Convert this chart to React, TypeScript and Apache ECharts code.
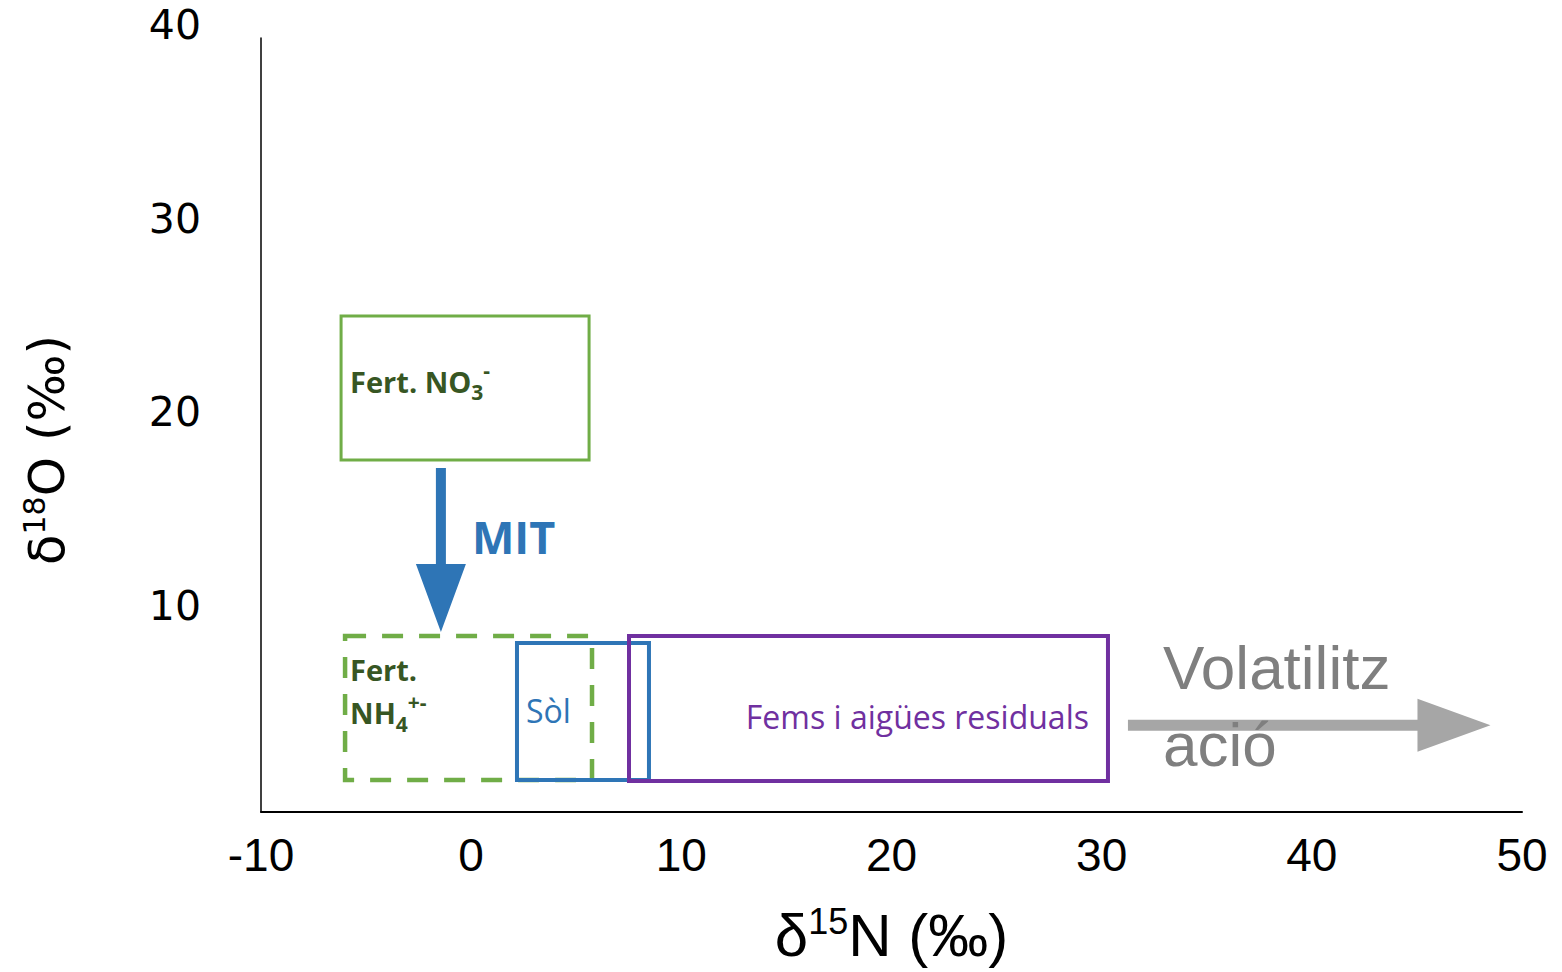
import { useEffect, useRef } from "react";
import * as echarts from "echarts";

// ---------- data ----------
const xTicks = [-10, 0, 10, 20, 30, 40, 50];
const yTicks = [0, 10, 20, 30, 40];
const yTickLabels = ["", "10", "20", "30", "40"];

const boxLabels = [
  "Fert. NO{sub|3}{sup|-}",
  "Fert.\nNH{sub|4}{sup|+-}",
  "Sòl",
  "Fems i aigües residuals",
];
const boxXMin = [-6.19, -6.0, 2.18, 7.51];
const boxXMax = [5.61, 5.75, 8.46, 30.3];
const boxYMin = [18.19, 1.65, 1.65, 1.6];
const boxYMax = [25.63, 9.1, 8.73, 9.1];

const arrowLabels = ["MIT", "Volatilitz\nació"];
const arrowXFrom = [-1.44, 31.25];
const arrowYFrom = [17.78, 4.48];
const arrowXTo = [-1.44, 48.5];
const arrowYTo = [9.3, 4.48];

// ---------- styles ----------
const SANS = "'Open Sans', sans-serif";
const subSup = (size: number) => ({
  sub: { fontSize: size, fontWeight: "bold", fontFamily: SANS, fill: "#375623", lineHeight: 4, verticalAlign: "bottom" },
  sup: { fontSize: size, fontWeight: "bold", fontFamily: SANS, fill: "#375623", lineHeight: 22, verticalAlign: "top" },
});

const boxStyles: any[] = [
  { stroke: "#70AD47", lineWidth: 3, dash: null, fill: "#375623", weight: "bold", size: 29, lh: 43, anchor: "left", dx: 9, dy: -7, rich: subSup(21) },
  { stroke: "#70AD47", lineWidth: 4.5, dash: [21, 16], fill: "#375623", weight: "bold", size: 29, lh: 43, anchor: "leftTop", dx: 5, dy: 12.5, rich: subSup(21) },
  { stroke: "#2E75B6", lineWidth: 4, dash: null, fill: "#2E75B6", weight: "normal", size: 32, lh: 40, anchor: "left", dx: 9, dy: -1, rich: {} },
  { stroke: "#7030A0", lineWidth: 4, dash: null, fill: "#7030A0", weight: "normal", size: 32, lh: 40, anchor: "right", dx: -19, dy: 8, rich: {} },
];

const arrowStyles: any[] = [
  { color: "#2E75B6", shaftHalf: 5, headHalf: 25, headLen: 68, text: "#2E75B6", font: SANS, size: 45, weight: "bold", lh: 50, tx: 31, ty: 0, tyMid: true, textTyOffset: -14 },
  { color: "#A6A6A6", shaftHalf: 5.5, headHalf: 26.5, headLen: 73, text: "#7F7F7F", font: "'Liberation Sans', Arial, sans-serif", size: 62, weight: "normal", lh: 77, tx: 35, ty: -19, tyMid: false, textTyOffset: 0 },
];

export default function App() {
  const ref = useRef<HTMLDivElement>(null);

  useEffect(() => {
    if (!ref.current) return;
    const chart = echarts.init(ref.current, null, { renderer: "svg" });

    const boxData = boxLabels.map((_, i) => [boxXMin[i], boxYMin[i], boxXMax[i], boxYMax[i]]);
    const arrowData = arrowLabels.map((_, i) => [arrowXFrom[i], arrowYFrom[i], arrowXTo[i], arrowYTo[i]]);

    const option: any = {
      animation: false,
      backgroundColor: "#ffffff",
      grid: { left: 261, right: 40, top: 38, bottom: 160, containLabel: false, outerBoundsMode: "none" },
      xAxis: {
        type: "value",
        min: xTicks[0],
        max: xTicks[xTicks.length - 1],
        interval: xTicks[1] - xTicks[0],
        axisLine: { show: true, onZero: false, lineStyle: { color: "#000", width: 2 } },
        axisTick: { show: false },
        splitLine: { show: false },
        axisLabel: {
          margin: 20,
          color: "#000",
          fontSize: 46,
          fontFamily: "'Liberation Sans Narrow', 'Liberation Sans', sans-serif",
        },
        name: "δ{sup|15}N (‰)",
        nameLocation: "middle",
        nameGap: 91,
        nameTextStyle: {
          color: "#000",
          fontSize: 60,
          lineHeight: 64,
          fontFamily: "'Liberation Sans Narrow', 'Liberation Sans', sans-serif",
          rich: {
            sup: {
              color: "#000",
              fontSize: 36,
              lineHeight: 28,
              verticalAlign: "top",
              fontFamily: "'Liberation Sans Narrow', 'Liberation Sans', sans-serif",
            },
          },
        },
      },
      yAxis: {
        type: "value",
        min: yTicks[0],
        max: yTicks[yTicks.length - 1],
        interval: yTicks[1] - yTicks[0],
        axisLine: { show: true, onZero: false, lineStyle: { color: "#000", width: 1.5 } },
        axisTick: { show: false },
        splitLine: { show: false },
        axisLabel: {
          margin: 60,
          color: "#000",
          fontSize: 41,
          lineHeight: 26,
          verticalAlign: "bottom",
          fontFamily: "'DejaVu Sans', sans-serif",
          formatter: (v: number) => {
            const k = yTicks.indexOf(v);
            return k >= 0 ? yTickLabels[k] : "";
          },
        },
        name: "δ{sup|18}O (‰)",
        nameLocation: "middle",
        nameRotate: 90,
        nameGap: 186,
        nameTextStyle: {
          color: "#000",
          fontSize: 50,
          lineHeight: 56,
          padding: [0, 50, 0, 0],
          fontFamily: "'DejaVu Sans', sans-serif",
          rich: {
            sup: {
              color: "#000",
              fontSize: 30,
              lineHeight: 26,
              verticalAlign: "top",
              fontFamily: "'DejaVu Sans', sans-serif",
            },
          },
        },
      },
      series: [
        {
          type: "custom",
          name: "boxes",
          coordinateSystem: "cartesian2d",
          clip: false,
          encode: { x: [0, 2], y: [1, 3] },
          data: boxData,
          renderItem: (params: any, api: any) => {
            const i = params.dataIndex;
            const st = boxStyles[i];
            const p0 = api.coord([api.value(0), api.value(1)]);
            const p1 = api.coord([api.value(2), api.value(3)]);
            const x = Math.min(p0[0], p1[0]);
            const y = Math.min(p0[1], p1[1]);
            const w = Math.abs(p1[0] - p0[0]);
            const h = Math.abs(p1[1] - p0[1]);
            let tx = x + st.dx;
            let ty = y + h / 2 + st.dy;
            let align = "left";
            let va = "middle";
            if (st.anchor === "right") {
              tx = x + w + st.dx;
              align = "right";
            } else if (st.anchor === "leftTop") {
              ty = y + st.dy;
              va = "top";
            }
            return {
              type: "group",
              children: [
                {
                  type: "rect",
                  shape: { x, y, width: w, height: h },
                  style: { fill: "none", stroke: st.stroke, lineWidth: st.lineWidth, lineDash: st.dash || undefined },
                },
                {
                  type: "text",
                  x: tx,
                  y: ty,
                  style: {
                    text: boxLabels[i],
                    fill: st.fill,
                    fontSize: st.size,
                    fontWeight: st.weight,
                    fontFamily: SANS,
                    lineHeight: st.lh,
                    align,
                    verticalAlign: va,
                    rich: st.rich,
                  },
                },
              ],
            };
          },
        },
        {
          type: "custom",
          name: "arrows",
          coordinateSystem: "cartesian2d",
          clip: false,
          encode: { x: [0, 2], y: [1, 3] },
          data: arrowData,
          renderItem: (params: any, api: any) => {
            const i = params.dataIndex;
            const st = arrowStyles[i];
            const a = api.coord([api.value(0), api.value(1)]);
            const b = api.coord([api.value(2), api.value(3)]);
            const dx = b[0] - a[0];
            const dy = b[1] - a[1];
            const len = Math.sqrt(dx * dx + dy * dy) || 1;
            const ux = dx / len;
            const uy = dy / len;
            const px = -uy;
            const py = ux;
            const hb = [b[0] - ux * st.headLen, b[1] - uy * st.headLen];
            const pts = [
              [a[0] + px * st.shaftHalf, a[1] + py * st.shaftHalf],
              [hb[0] + px * st.shaftHalf, hb[1] + py * st.shaftHalf],
              [hb[0] + px * st.headHalf, hb[1] + py * st.headHalf],
              [b[0], b[1]],
              [hb[0] - px * st.headHalf, hb[1] - py * st.headHalf],
              [hb[0] - px * st.shaftHalf, hb[1] - py * st.shaftHalf],
              [a[0] - px * st.shaftHalf, a[1] - py * st.shaftHalf],
            ];
            const tx = a[0] + st.tx;
            const ty = st.tyMid ? (a[1] + b[1]) / 2 + st.textTyOffset : a[1] + st.ty;
            return {
              type: "group",
              children: [
                { type: "polygon", shape: { points: pts }, style: { fill: st.color, stroke: "none" } },
                {
                  type: "text",
                  x: tx,
                  y: ty,
                  style: {
                    text: arrowLabels[i],
                    fill: st.text,
                    fontSize: st.size,
                    fontWeight: st.weight,
                    fontFamily: st.font,
                    lineHeight: st.lh,
                    align: "left",
                    verticalAlign: "middle",
                  },
                },
              ],
            };
          },
        },
      ],
    };

    chart.setOption(option);
    return () => chart.dispose();
  }, []);

  return (
    <div
      ref={ref}
      style={{ position: "absolute", left: 0, top: 0, width: 1562, height: 972, background: "#fff" }}
    />
  );
}
